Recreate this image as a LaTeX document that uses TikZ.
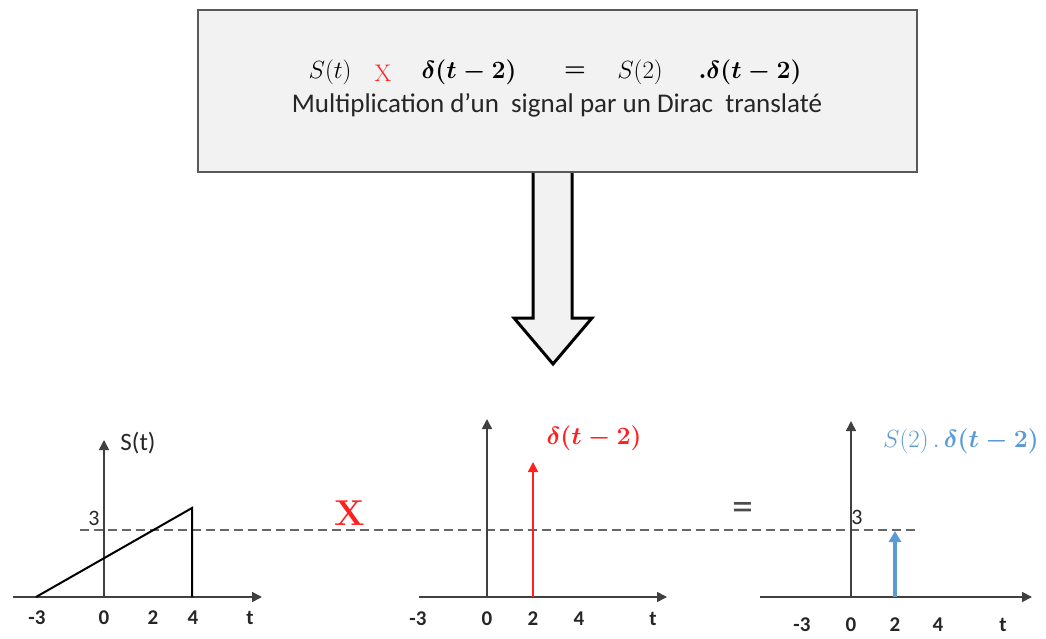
\documentclass[tikz,border=0pt]{standalone}
\usepackage{amsmath}
\usepackage{fontspec}
\newfontfamily\calibri{Carlito}
\usetikzlibrary{arrows.meta, positioning}
\definecolor{boxgray}{HTML}{F2F2F2}
\definecolor{sigblue}{HTML}{5B9BD5}
\definecolor{diracred}{HTML}{FF2020}

\begin{document}
\begin{tikzpicture}[
    x=1pt, y=-1pt,
    frame/.style={draw=black!65, line width=2pt, fill=boxgray,
      minimum width=719pt, minimum height=162pt},
    bigarrow/.style={draw=black, line width=3pt, fill=boxgray, line join=miter},
    axis/.style={-{Triangle[length=10pt, width=10pt]}, line width=1.6pt, draw=black!75},
    signal/.style={line width=2pt, draw=black},
    level/.style={dash pattern=on 9pt off 5pt, line width=1.4pt, draw=black!60},
    ticklab/.style={font=\calibri\bfseries\fontsize{21}{21}\selectfont, text=black!85, inner sep=0pt},
    eq/.style={font=\fontsize{31}{31}\selectfont, inner sep=0pt},
    small/.style={font=\calibri\fontsize{25}{25}\selectfont, text=black!85, inner sep=0pt}
  ]
    \useasboundingbox (0,0) rectangle (1046,639);

    % down arrow, drawn first so the frame covers its top
    \draw[bigarrow] (533,171) -- (533,318) -- (514,318) -- (553,364)
      -- (592,318) -- (572,318) -- (572,171);

    % equation box
    \node[frame] (eqbox) at (557,91) {};
    \node[eq] (st) at (330,72) {$S(t)$};
    \node[eq, text=diracred, font=\fontsize{24}{24}\selectfont] (times) at (383,73) {X};
    \node[eq] (dirac) at (469,72) {$\boldsymbol{\delta(t-2)}$};
    \node[eq] (equal) at (575,72) {$\boldsymbol{=}$};
    \node[eq] (s2) at (640,72) {$S(2)$};
    \node[eq] (prod) at (750,72) {$\boldsymbol{.\delta(t-2)}$};
    \node[small, font=\calibri\fontsize{27}{27}\selectfont] (title) at (557,105)
      {Multiplication d’un\ \ signal par un Dirac\ \ translaté};

    % common level of the value 3
    \coordinate (lvlL) at (80,530);
    \coordinate (lvlR) at (918,530);
    \draw[level] (lvlL) -- (lvlR);

    % first graph: S(t)
    \coordinate (o1) at (104,597);
    \coordinate (xa1) at (13,597);
    \coordinate (xb1) at (262,597);
    \coordinate (yb1) at (104,440);
    \draw[axis] (xa1) -- (xb1);
    \draw[axis] (o1) -- (yb1);
    \coordinate (r0) at (36,597);
    \coordinate (r1) at (192,508);
    \coordinate (r2) at (192,597);
    \draw[signal] (r0) -- (r1) -- (r2);
    \node[small] (lab1) at (138,443) {S(t)};
    \node[small, font=\calibri\fontsize{22}{22}\selectfont] (three1) at (94,518) {3};
    \foreach \v/\px in {-3/37, 0/104, 2/153, 4/193, t/250}
      \node[ticklab] (ta\v) at (\px,618) {\v};

    \node[text=diracred, font=\bfseries\fontsize{36}{36}\selectfont, inner sep=0pt] (mult) at (350,513) {X};

    % second graph: Dirac
    \coordinate (o2) at (487,597);
    \coordinate (xa2) at (419,597);
    \coordinate (xb2) at (667,597);
    \coordinate (yb2) at (487,419);
    \draw[axis] (xa2) -- (xb2);
    \draw[axis] (o2) -- (yb2);
    \coordinate (d0) at (533,597);
    \coordinate (d1) at (533,462);
    \draw[-{Triangle[length=10pt, width=10pt]}, line width=1.6pt, draw=diracred] (d0) -- (d1);
    \node[text=diracred, font=\fontsize{27}{27}\selectfont, inner sep=0pt] (lab2) at (594,438)
      {$\boldsymbol{\delta(t-2)}$};
    \foreach \v/\px in {-3/418, 0/487, 2/533, 4/579, t/653}
      \node[ticklab] (tb\v) at (\px,619) {\v};

    \node[text=black!70, font=\calibri\fontsize{42}{42}\selectfont, inner sep=0pt] (res) at (743,511) {=};

    % third graph: result
    \coordinate (o3) at (851,597);
    \coordinate (xa3) at (760,597);
    \coordinate (xb3) at (1032,597);
    \coordinate (yb3) at (851,421);
    \draw[axis] (xa3) -- (xb3);
    \draw[axis] (o3) -- (yb3);
    \coordinate (e0) at (895,597);
    \coordinate (e1) at (895,531);
    \draw[-{Triangle[length=11pt, width=12pt]}, line width=3.2pt, draw=sigblue] (e0) -- (e1);
    \node[text=sigblue, font=\fontsize{26}{26}\selectfont, inner sep=0pt] (lab3) at (961,441)
      {$S(2)\,.\,\boldsymbol{\delta(t-2)}$};
    \node[small, font=\calibri\fontsize{22}{22}\selectfont] (three3) at (857,517) {3};
    \foreach \v/\px in {-3/802, 0/851, 2/895, 4/938, t/1003}
      \node[ticklab] (tc\v) at (\px,625) {\v};
  \end{tikzpicture}
\end{document}
